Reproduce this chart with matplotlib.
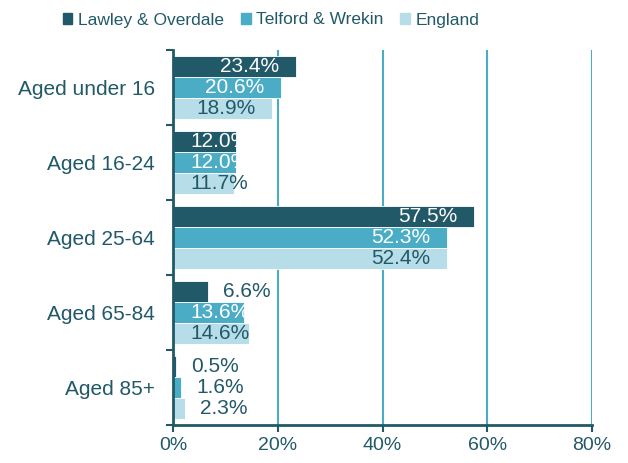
import numpy as np
import matplotlib
matplotlib.use("Agg")
import matplotlib.pyplot as plt
from matplotlib.patches import Patch

plt.rcParams['font.family'] = ['Liberation Sans', 'DejaVu Sans']

categories = ['Aged under 16', 'Aged 16-24', 'Aged 25-64', 'Aged 65-84', 'Aged 85+']
series = ['Lawley & Overdale', 'Telford & Wrekin', 'England']
lawley = [23.4, 12.0, 57.5, 6.6, 0.5]
telford = [20.6, 12.0, 52.3, 13.6, 1.6]
england = [18.9, 11.7, 52.4, 14.6, 2.3]
xticks = [0, 20, 40, 60, 80]

colors = ['#215968', '#4bacc6', '#b7dee8']
txt = '#215968'

fig = plt.figure(figsize=(6.28, 4.63), dpi=100)
ax = fig.add_axes([173/628, 1-425/463, (592-173)/628, 375/463])

y = np.arange(len(categories))
h = 0.28
fs = 15

for i, (vals, c) in enumerate(zip([lawley, telford, england], colors)):
    pos = y + (i - 1) * h
    bars = ax.barh(pos, vals, height=h, color=c, edgecolor='white', linewidth=0.6, zorder=3)
    for b, p, v in zip(bars, pos, vals):
        label = f'{v:.1f}%'
        col = 'white' if i < 2 else txt
        if v >= 17.6:
            # inside end
            ax.annotate(label, (v, p), xytext=(-12, 0), textcoords='offset points',
                        ha='right', va='center', color=col, fontsize=fs, zorder=4)
        elif v >= 10:
            # label too wide for the bar, pinned near the axis
            t = ax.annotate(label, (0, p), xytext=(12.5, 0), textcoords='offset points',
                            ha='left', va='center', color=col, fontsize=fs, zorder=4)
            if col == 'white':
                t.set_clip_path(b)
        else:
            ax.annotate(label, (v, p), xytext=(11, 0), textcoords='offset points',
                        ha='left', va='center', color=txt, fontsize=fs, zorder=4)

ax.set_xlim(0, 80)
ax.set_ylim(len(categories) - 0.5, -0.5)
ax.set_xticks(xticks)
ax.set_xticklabels([f'{t}%' for t in xticks], fontsize=14, color=txt)
ax.set_yticks(y)
ax.set_yticklabels(categories, fontsize=fs, color=txt)
ax.set_yticks(np.arange(-0.5, len(categories)), minor=True)
ax.tick_params(axis='y', which='major', length=0, pad=13)
ax.tick_params(axis='y', which='minor', length=5, width=1.5, color=txt, direction='out')
ax.tick_params(axis='x', length=5, width=1.5, color=txt, direction='out', pad=4)

ax.grid(axis='x', color='#4bacc6', linewidth=1.5, zorder=0)
for s in ['top', 'right']:
    ax.spines[s].set_visible(False)
for s in ['left', 'bottom']:
    ax.spines[s].set_color(txt)
    ax.spines[s].set_linewidth(2)
    ax.spines[s].set_zorder(5)

handles = [Patch(color=c) for c in colors]
fig.legend(handles, series, loc='center', bbox_to_anchor=(271/628, 1-20/463), ncol=3,
           frameon=False, fontsize=12.5, labelcolor=txt, handlelength=0.55, handleheight=0.55,
           handletextpad=0.3, columnspacing=1.0)

fig.savefig('out.png', dpi=100)
